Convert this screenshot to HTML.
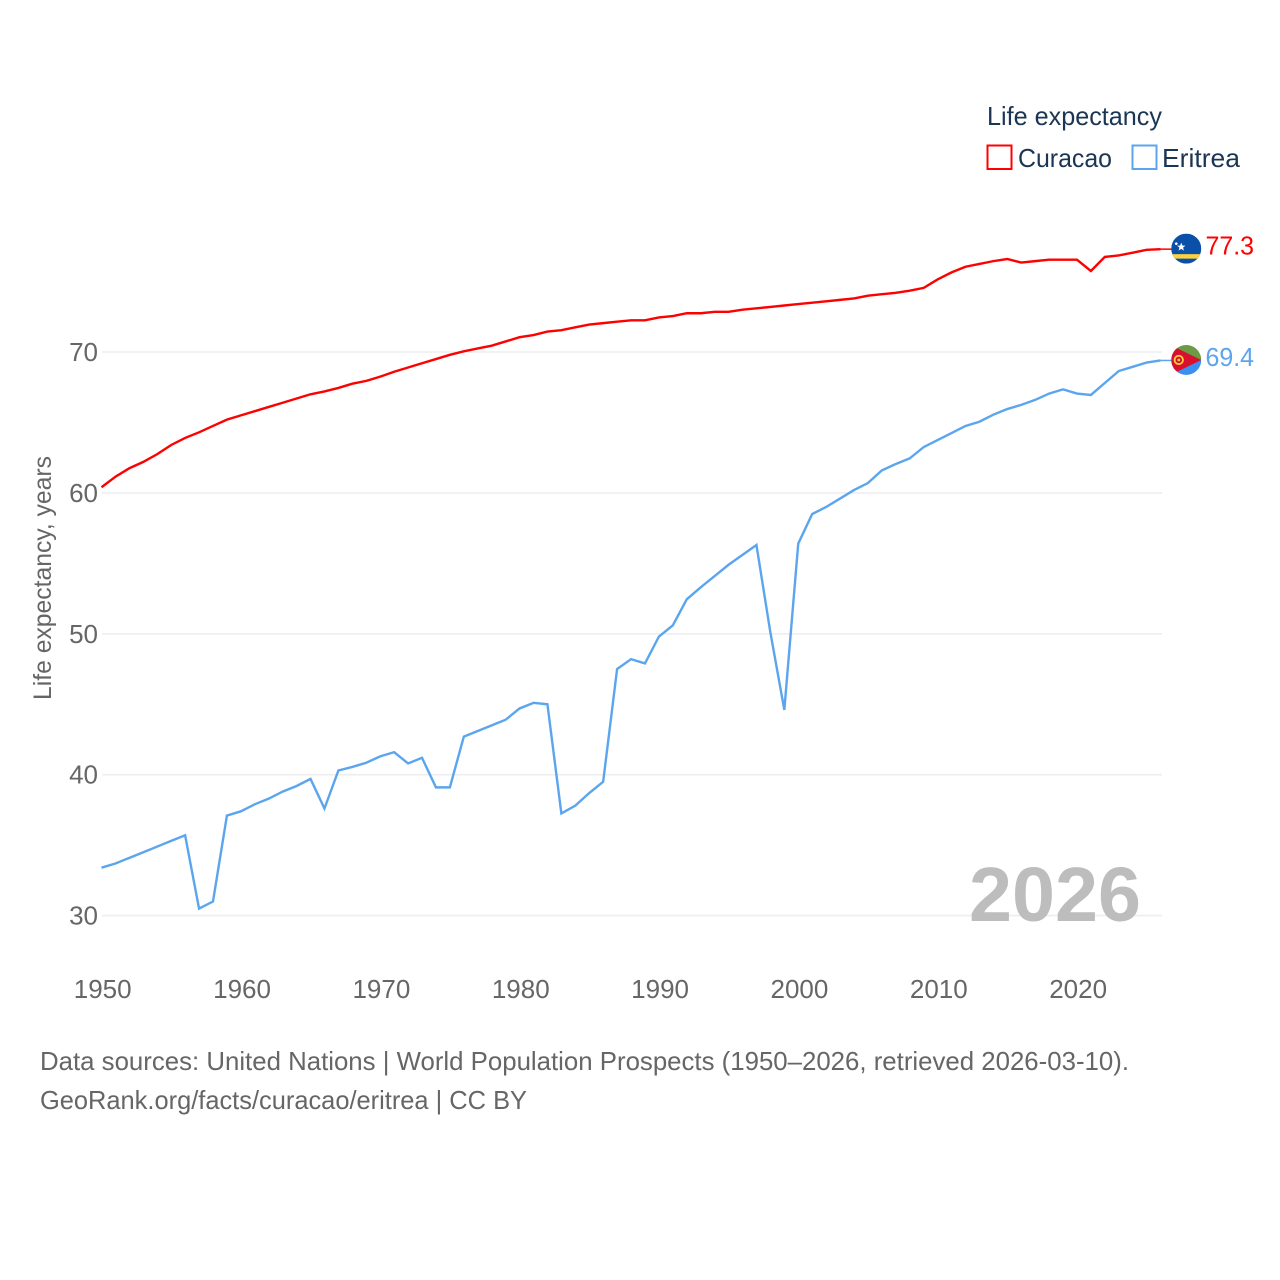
<!DOCTYPE html>
<html lang="en">
<head>
<meta charset="utf-8">
<title>Life expectancy: Curacao and Eritrea</title>
<style>
html,body{margin:0;padding:0;background:#fff;width:1280px;height:1280px;overflow:hidden}
svg{display:block;font-family:"Liberation Sans",sans-serif}
</style>
</head>
<body>
<svg id="chart" xmlns="http://www.w3.org/2000/svg" width="1280" height="1280" viewBox="0 0 1280 1280">
  <g id="grid"></g>
  <g id="yticks"></g>
  <g id="xticks"></g>
  <text transform="translate(51,700) rotate(-90)" font-size="25" fill="#666" textLength="244" lengthAdjust="spacingAndGlyphs">Life expectancy, years</text>
  <text x="969" y="921" font-size="77" font-weight="bold" fill="#bdbdbd" textLength="172" lengthAdjust="spacingAndGlyphs">2026</text>
  <g id="series"></g>

  <g id="flag-curacao">
    <clipPath id="clip-cw"><circle cx="0" cy="0" r="15"/></clipPath>
    <g clip-path="url(#clip-cw)">
      <rect x="-15" y="-15" width="30" height="30" fill="#0a4fa8"/>
      <rect x="-15" y="5.5" width="30" height="4.5" fill="#fdd23c"/>
      <polygon points="-5,-6 -3.8,-3 -0.8,-3 -3.2,-1 -2.3,2 -5,0.2 -7.7,2 -6.8,-1 -9.2,-3 -6.2,-3" fill="#fff"/>
      <circle cx="-10" cy="-5" r="1.3" fill="#fff"/>
    </g>
  </g>
  <g id="flag-eritrea">
    <clipPath id="clip-er"><circle cx="0" cy="0" r="15"/></clipPath>
    <g clip-path="url(#clip-er)">
      <rect x="-15" y="-15" width="30" height="15" fill="#6b9c45"/>
      <rect x="-15" y="0" width="30" height="15" fill="#3b8ff0"/>
      <polygon points="-16,-15 15,0 -16,15" fill="#d8102e"/>
      <circle cx="-7.5" cy="0" r="4.2" fill="none" stroke="#fdd23c" stroke-width="1.8"/>
      <circle cx="-7.5" cy="0" r="1.3" fill="#fdd23c"/>
    </g>
  </g>

  <g id="value-labels"></g>

  <g>
    <text x="987" y="125" font-size="26" fill="#1b3554" textLength="175" lengthAdjust="spacingAndGlyphs">Life expectancy</text>
    <g>
      <rect x="987.5" y="145.5" width="24" height="23.5" fill="none" stroke="#ff0000" stroke-width="2"/>
      <text x="1018" y="167" font-size="26" fill="#1b3554" textLength="94" lengthAdjust="spacingAndGlyphs">Curacao</text>
    </g>
    <g>
      <rect x="1132.5" y="145.5" width="24" height="23.5" fill="none" stroke="#5ba5ef" stroke-width="2"/>
      <text x="1162" y="167" font-size="26" fill="#1b3554" textLength="78" lengthAdjust="spacingAndGlyphs">Eritrea</text>
    </g>
  </g>

  <text x="40" y="1070" font-size="26" fill="#666" textLength="1089" lengthAdjust="spacingAndGlyphs">Data sources: United Nations | World Population Prospects (1950–2026, retrieved 2026-03-10).</text>
  <text x="40" y="1109" font-size="26" fill="#666" textLength="487" lengthAdjust="spacingAndGlyphs">GeoRank.org/facts/curacao/eritrea | CC BY</text>
</svg>
<script>
const years = [1950,1951,1952,1953,1954,1955,1956,1957,1958,1959,1960,1961,1962,1963,1964,1965,1966,1967,1968,1969,1970,1971,1972,1973,1974,1975,1976,1977,1978,1979,1980,1981,1982,1983,1984,1985,1986,1987,1988,1989,1990,1991,1992,1993,1994,1995,1996,1997,1998,1999,2000,2001,2002,2003,2004,2005,2006,2007,2008,2009,2010,2011,2012,2013,2014,2015,2016,2017,2018,2019,2020,2021,2022,2023,2024,2025,2026];
const curacaoValues = [60.4,61.15,61.75,62.2,62.75,63.4,63.9,64.3,64.75,65.2,65.5,65.8,66.1,66.4,66.7,67.0,67.2,67.45,67.75,67.95,68.25,68.6,68.9,69.2,69.5,69.8,70.05,70.25,70.45,70.75,71.05,71.2,71.45,71.55,71.75,71.95,72.05,72.15,72.25,72.25,72.45,72.55,72.75,72.75,72.85,72.85,73.0,73.1,73.2,73.3,73.4,73.5,73.6,73.7,73.8,74.0,74.1,74.2,74.35,74.55,75.15,75.65,76.05,76.25,76.45,76.6,76.35,76.45,76.55,76.55,76.55,75.75,76.75,76.85,77.05,77.25,77.3];
const eritreaValues = [33.4,33.7,34.1,34.5,34.9,35.3,35.7,30.5,31.0,37.1,37.4,37.9,38.3,38.8,39.2,39.7,37.6,40.3,40.55,40.85,41.3,41.6,40.8,41.2,39.1,39.1,42.7,43.1,43.5,43.9,44.7,45.1,45.0,37.25,37.8,38.7,39.5,47.5,48.2,47.9,49.8,50.6,52.45,53.3,54.1,54.9,55.6,56.3,50.1,44.6,56.4,58.5,59.0,59.6,60.2,60.7,61.6,62.05,62.45,63.25,63.75,64.25,64.75,65.05,65.55,65.95,66.25,66.6,67.05,67.35,67.05,66.95,67.8,68.65,68.95,69.25,69.4];
const yTickValues = [30,40,50,60,70];
const xTickValues = [1950,1960,1970,1980,1990,2000,2010,2020];

const NS = 'http://www.w3.org/2000/svg';
function xScale(year){ return 101.5 + (year - 1950) * 13.935; }
function yScale(v){ return 915.6 - (v - 30) * 14.09; }
function make(tag, attrs){
  const el = document.createElementNS(NS, tag);
  for (const k in attrs) el.setAttribute(k, attrs[k]);
  return el;
}

const gridG = document.getElementById('grid');
const yTickG = document.getElementById('yticks');
yTickValues.forEach(function(v){
  const line = make('line', {x1:102, x2:1162, y1:yScale(v), y2:yScale(v), stroke:'#eeeeee', 'stroke-width':1.6});
  
  
  gridG.appendChild(line);
  const t = make('text', {x:98, y:yScale(v)+9, 'text-anchor':'end', 'font-size':26, fill:'#666'});
  t.textContent = v;
  
  
  yTickG.appendChild(t);
});

const xTickG = document.getElementById('xticks');
xTickValues.forEach(function(yr){
  const t = make('text', {x:xScale(yr)+1.2, y:998, 'text-anchor':'middle', 'font-size':26, fill:'#666'});
  t.textContent = yr;
  
  
  xTickG.appendChild(t);
});

function drawSeries(values, color, lineName, leaderName, labelName, flagId){
  const seriesG = document.getElementById('series');
  const pts = values.map(function(v, i){ return xScale(years[i]).toFixed(2) + ',' + yScale(v).toFixed(2); }).join(' ');
  const line = make('polyline', {points:pts, fill:'none', stroke:color, 'stroke-width':2.4, 'stroke-linejoin':'miter'});
  
  
  seriesG.appendChild(line);
  const last = values[values.length-1];
  const lx = xScale(years[years.length-1]);
  const ly = yScale(last);
  const leader = make('line', {x1:lx, x2:lx+11, y1:ly, y2:ly, stroke:color, 'stroke-width':1.5});
  
  
  seriesG.appendChild(leader);
  document.getElementById(flagId).setAttribute('transform', 'translate(' + (lx+25.7) + ',' + (ly-0.5) + ')');
  const label = make('text', {x:lx+45, y:ly+5.5, 'font-size':26, fill:color, textLength:48.5, lengthAdjust:'spacingAndGlyphs'});
  label.textContent = last.toFixed(1);
  
  
  document.getElementById('value-labels').appendChild(label);
}
drawSeries(eritreaValues, '#5ba5ef', 'eritrea-line', 'eritrea-leader', 'eritrea-value-label', 'flag-eritrea');
drawSeries(curacaoValues, '#ff0000', 'curacao-line', 'curacao-leader', 'curacao-value-label', 'flag-curacao');
</script>
</body>
</html>
